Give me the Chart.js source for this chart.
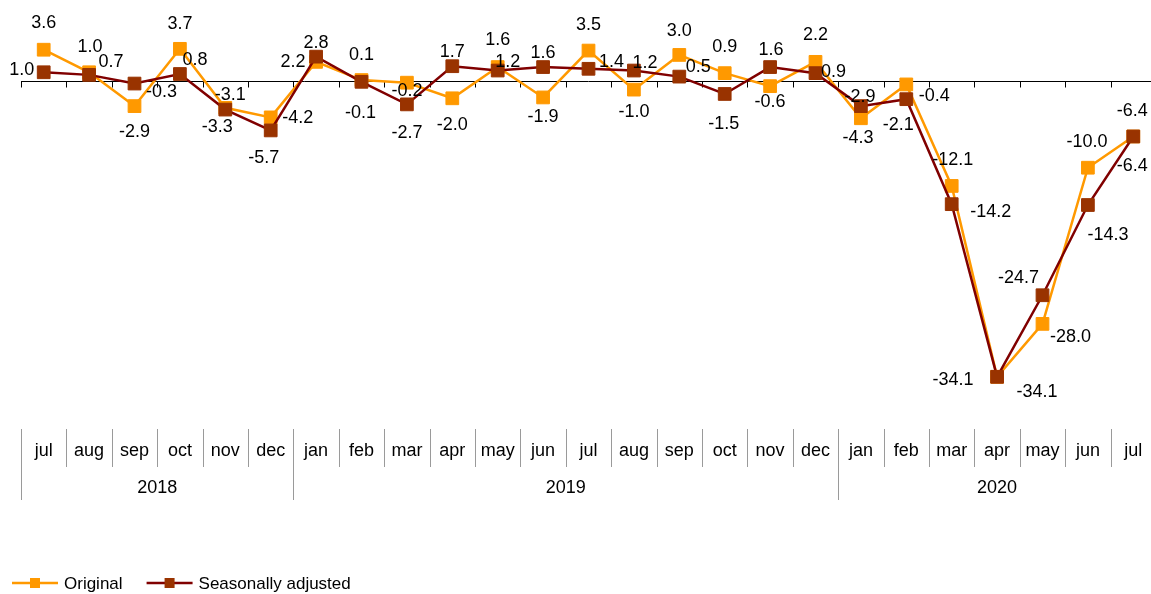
<!DOCTYPE html>
<html><head><meta charset="utf-8">
<script src="https://cdn.jsdelivr.net/npm/chart.js@4.4.0/dist/chart.umd.min.js"></script>
<style>html,body{margin:0;padding:0;overflow:hidden;background:#fff}#wrap{width:1156px;height:594px;position:relative}</style>
</head><body><div id="wrap"><canvas id="c"></canvas></div>
<script>
// ---- data ----
const months = ['jul','aug','sep','oct','nov','dec','jan','feb','mar','apr','may','jun','jul','aug','sep','oct','nov','dec','jan','feb','mar','apr','may','jun','jul'];
const years = ['2018','2019','2020'];
const monthsPerYear = [6, 12, 7];
const original = [3.6, 1.0, -2.9, 3.7, -3.1, -4.2, 2.2, 0.1, -0.2, -2.0, 1.6, -1.9, 3.5, -1.0, 3.0, 0.9, -0.6, 2.2, -4.3, -0.4, -12.1, -34.1, -28.0, -10.0, -6.4];
const seasonallyAdjusted = [1.0, 0.7, -0.3, 0.8, -3.3, -5.7, 2.8, -0.1, -2.7, 1.7, 1.2, 1.6, 1.4, 1.2, 0.5, -1.5, 1.6, 0.9, -2.9, -2.1, -14.2, -34.1, -24.7, -14.3, -6.4];
const seriesNames = ['Original', 'Seasonally adjusted'];

// ---- label placement (styling, offsets in px from the point) ----
const origLabelOffsets = [[0,-27],[1,-25],[0,26],[0,-25],[5,-13],[27,1],[-23,0],[0,-25],[0,8],[0,27],[0,-27],[0,20],[0,-26],[0,22],[0,-24],[0,-26],[0,16],[0,-27],[-3,20],[28,12],[1,-26],[-44,3],[28,13],[-1,-26],[-1,-25]];
const saLabelOffsets = [[-22,-2],[22,-13],[27,8],[15,-14],[-8,17],[-7,28],[0,-14],[-1,31],[0,29],[0,-14],[10,-9],[0,-14],[23,-7],[11,-8],[19,-10],[-1,30],[1,-17],[18,-1],[-1,-9],[-8,26],[39,8],[40,15],[-24,-17],[20,30],[-1,30]];

const FONT = '"Liberation Sans", Arial, sans-serif';
const ORANGE = '#FF9900', MAROON = '#800000', BROWN = '#993300';

const overlay = {
  id: 'overlay',
  beforeDatasetsDraw(chart) {
    const ctx = chart.ctx, xs = chart.scales.x, ys = chart.scales.y, area = chart.chartArea;
    const y0 = Math.round(ys.getPixelForValue(0)) + 0.5;
    ctx.save();
    ctx.strokeStyle = '#000'; ctx.lineWidth = 1;
    ctx.beginPath(); ctx.moveTo(area.left, y0); ctx.lineTo(area.right, y0); ctx.stroke();
    const w = xs.width / months.length;
    ctx.beginPath();
    for (let i = 0; i <= months.length; i++) {
      const x = Math.round(area.left + i * w) + 0.5;
      ctx.moveTo(x, y0); ctx.lineTo(x, y0 + 6);
    }
    ctx.stroke();
    ctx.restore();
  },
  afterDatasetsDraw(chart) {
    const ctx = chart.ctx, xs = chart.scales.x, area = chart.chartArea;
    ctx.save();
    // data labels
    ctx.font = '18px ' + FONT; ctx.fillStyle = '#000';
    ctx.textAlign = 'center'; ctx.textBaseline = 'middle';
    const sets = [[0, origLabelOffsets], [1, saLabelOffsets]];
    sets.forEach(([di, offs]) => {
      const meta = chart.getDatasetMeta(di);
      meta.data.forEach((pt, i) => {
        const v = chart.data.datasets[di].data[i];
        ctx.fillText(v.toFixed(1), pt.x + offs[i][0], pt.y + offs[i][1]);
      });
    });
    // category axis
    const w = xs.width / months.length;
    const top = 429;
    ctx.strokeStyle = '#9a9a9a'; ctx.lineWidth = 1;
    ctx.beginPath();
    let yearBounds = [0]; let acc = 0;
    monthsPerYear.forEach(n => { acc += n; yearBounds.push(acc); });
    for (let i = 0; i <= months.length; i++) {
      const x = Math.round(area.left + i * w) + 0.5;
      const isYear = yearBounds.includes(i);
      ctx.moveTo(x, top); ctx.lineTo(x, isYear ? 500 : 467);
    }
    ctx.stroke();
    ctx.fillStyle = '#000'; ctx.font = '18px ' + FONT;
    months.forEach((m, i) => ctx.fillText(m, xs.getPixelForValue(i), 451));
    years.forEach((y, k) => {
      const x = area.left + (yearBounds[k] + yearBounds[k + 1]) / 2 * w;
      ctx.fillText(y, x, 488);
    });
    // legend
    const ly = 583;
    ctx.font = '17px ' + FONT; ctx.textAlign = 'left';
    const items = [[ORANGE, ORANGE], [MAROON, BROWN]];
    let lx = 12;
    items.forEach(([lc, pc], k) => {
      ctx.strokeStyle = lc; ctx.lineWidth = 2.5;
      ctx.beginPath(); ctx.moveTo(lx, ly); ctx.lineTo(lx + 46, ly); ctx.stroke();
      ctx.fillStyle = pc; ctx.fillRect(lx + 18, ly - 5, 10, 10);
      ctx.fillStyle = '#000';
      const label = chart.data.datasets[k].label;
      ctx.fillText(label, lx + 52, ly + 1);
      lx += 52 + ctx.measureText(label).width + 24;
    });
    ctx.restore();
  }
};

new Chart(document.getElementById('c'), {
  type: 'line',
  data: {
    labels: months,
    datasets: [
      { label: seriesNames[0], data: original, borderColor: ORANGE, backgroundColor: ORANGE,
        pointBackgroundColor: ORANGE, pointBorderColor: ORANGE, borderWidth: 2.5,
        pointStyle: 'rect', pointRadius: 9, pointBorderWidth: 1, tension: 0, order: 2 },
      { label: seriesNames[1], data: seasonallyAdjusted, borderColor: MAROON, backgroundColor: BROWN,
        pointBackgroundColor: BROWN, pointBorderColor: BROWN, borderWidth: 2.5,
        pointStyle: 'rect', pointRadius: 9, pointBorderWidth: 1, tension: 0, order: 1 }
    ]
  },
  options: {
    responsive: true, maintainAspectRatio: false, animation: false,
    layout: { autoPadding: false, padding: { left: 21, right: 0, top: 0, bottom: 166 } },
    scales: {
      x: { display: false, offset: true },
      y: { display: false, min: -40, max: 9.33 }
    },
    plugins: { legend: { display: false }, tooltip: { enabled: false } }
  },
  plugins: [overlay]
});
</script></body></html>
